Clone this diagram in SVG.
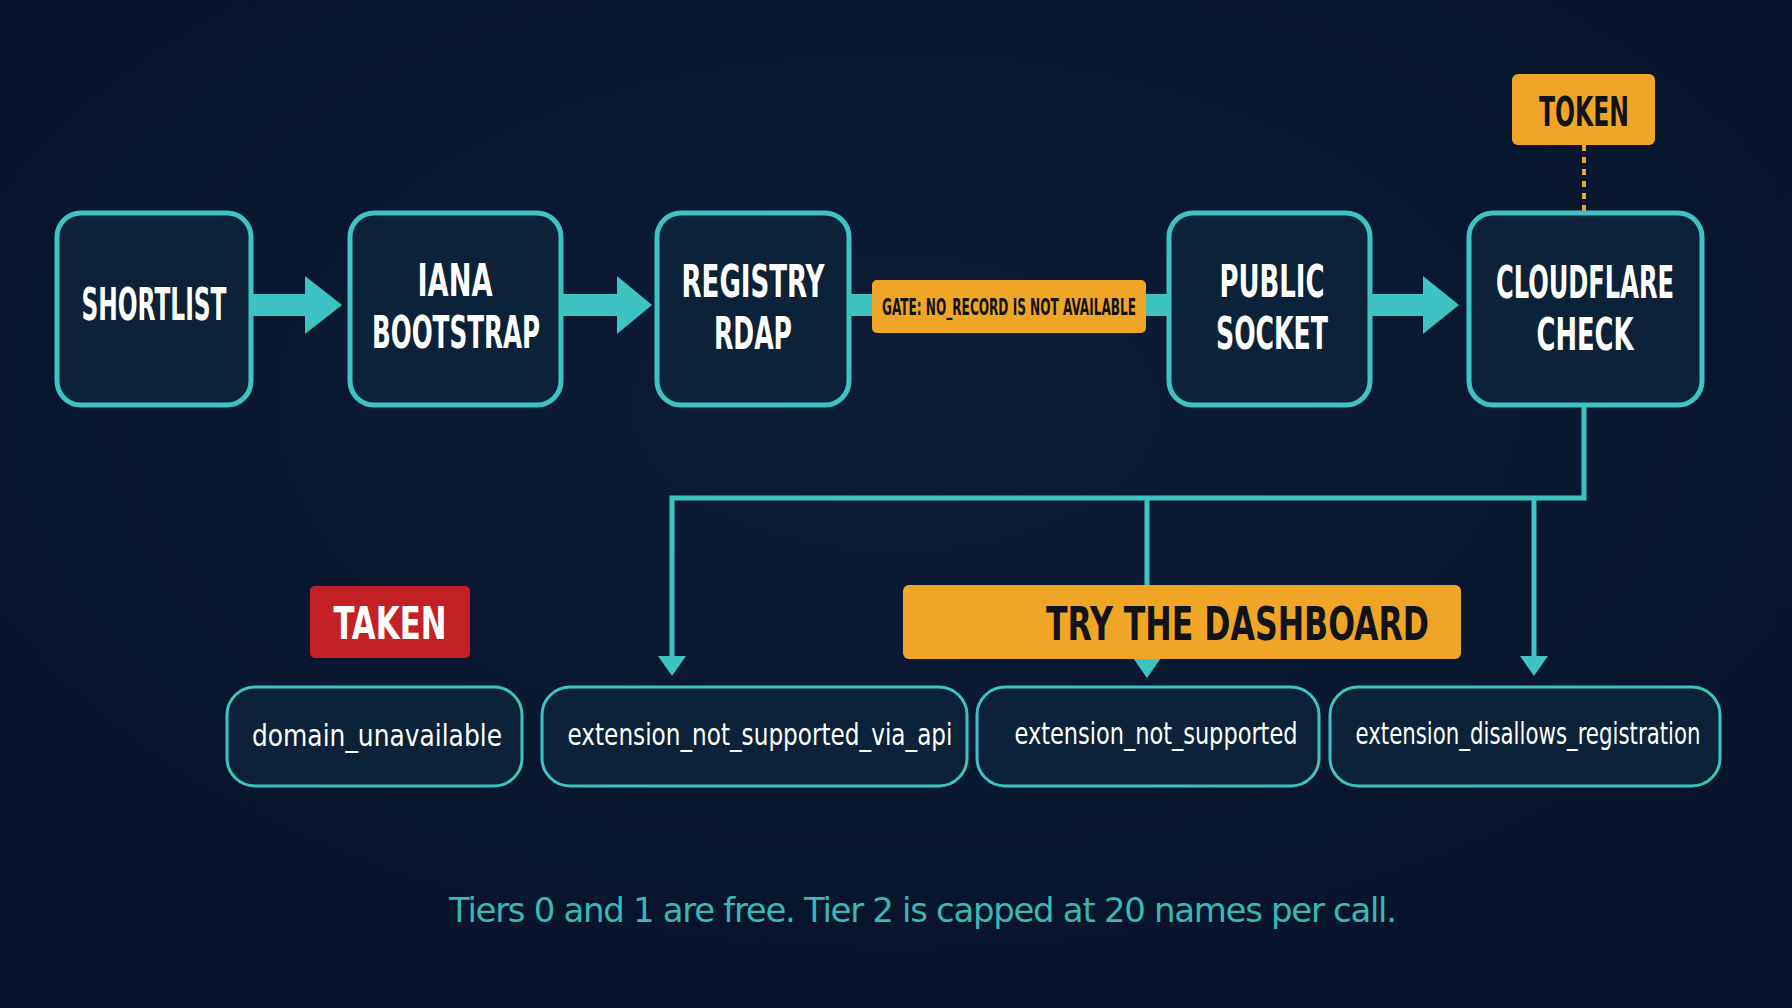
<svg xmlns="http://www.w3.org/2000/svg" width="1792" height="1008" viewBox="0 0 1792 1008">
<defs>
<radialGradient id="bg" cx="50%" cy="40%" r="70%"><stop offset="0" stop-color="#0c1d36"/><stop offset="1" stop-color="#07132a"/></radialGradient>
</defs>
<style>
.box{fill:#0c2238;stroke:#3ec3c3;stroke-width:5}
.sbox{fill:#0c2238;stroke:#3ec3c3;stroke-width:3}
.t{font-family:"DejaVu Sans Condensed","DejaVu Sans",sans-serif;font-weight:bold;fill:#ffffff;font-size:44px;text-anchor:middle}
.s{font-family:"DejaVu Sans Condensed","DejaVu Sans",sans-serif;fill:#ffffff;font-size:31px;text-anchor:middle}
.thick{stroke:#3ec3c3;stroke-width:22;fill:none}
.line{stroke:#3ec3c3;stroke-width:5;fill:none}
</style>
<rect width="1792" height="1008" fill="url(#bg)"/>
<g id="connectors">
<line class="thick" x1="251" y1="305" x2="310" y2="305"/><path d="M305,276L342,305L305,334z" fill="#3ec3c3"/>
<line class="thick" x1="561" y1="305" x2="622" y2="305"/><path d="M617,276L652,305L617,334z" fill="#3ec3c3"/>
<line class="thick" x1="849" y1="305" x2="1169" y2="305"/>
<line class="thick" x1="1370" y1="305" x2="1428" y2="305"/><path d="M1423,276L1459,305L1423,334z" fill="#3ec3c3"/>
<line x1="1584" y1="145" x2="1584" y2="213" stroke="#f0a526" stroke-width="4" stroke-dasharray="6,6"/>
<path class="line" d="M1584,405V498H672V660"/><path d="M658,656L686,656L672,676z" fill="#3ec3c3"/>
<path class="line" d="M1147,498V660"/><path d="M1133,658L1161,658L1147,678z" fill="#3ec3c3"/>
<path class="line" d="M1534,498V660"/><path d="M1520,656L1548,656L1534,676z" fill="#3ec3c3"/>
</g>
<g id="shortlist"><rect class="box" x="57" y="213" width="194" height="192" rx="24"/><text class="t" x="154" y="320" textLength="145" lengthAdjust="spacingAndGlyphs">SHORTLIST</text></g>
<g id="iana"><rect class="box" x="350" y="213" width="211" height="192" rx="24"/><text class="t" x="455" y="296" textLength="75" lengthAdjust="spacingAndGlyphs">IANA</text><text class="t" x="456" y="348" textLength="168" lengthAdjust="spacingAndGlyphs">BOOTSTRAP</text></g>
<g id="registry"><rect class="box" x="657" y="213" width="192" height="192" rx="24"/><text class="t" x="753" y="297" textLength="143" lengthAdjust="spacingAndGlyphs">REGISTRY</text><text class="t" x="753" y="349" textLength="78" lengthAdjust="spacingAndGlyphs">RDAP</text></g>
<g id="gate"><rect x="872" y="280" width="274" height="53" rx="5" fill="#f0a526"/><text x="1009" y="315" font-family="DejaVu Sans Condensed,sans-serif" font-weight="bold" font-size="23" fill="#10131a" text-anchor="middle" textLength="254" lengthAdjust="spacingAndGlyphs">GATE: NO_RECORD IS NOT AVAILABLE</text></g>
<g id="public"><rect class="box" x="1169" y="213" width="201" height="192" rx="24"/><text class="t" x="1272" y="297" textLength="105" lengthAdjust="spacingAndGlyphs">PUBLIC</text><text class="t" x="1272" y="349" textLength="112" lengthAdjust="spacingAndGlyphs">SOCKET</text></g>
<g id="cloudflare"><rect class="box" x="1469" y="213" width="233" height="192" rx="24"/><text class="t" x="1585" y="298" textLength="178" lengthAdjust="spacingAndGlyphs">CLOUDFLARE</text><text class="t" x="1585" y="350" textLength="97" lengthAdjust="spacingAndGlyphs">CHECK</text></g>
<g id="token"><rect x="1512" y="74" width="143" height="71" rx="6" fill="#f0a526"/><text x="1584" y="126" font-family="DejaVu Sans Condensed,sans-serif" font-weight="bold" font-size="40" fill="#10131a" text-anchor="middle" textLength="90" lengthAdjust="spacingAndGlyphs">TOKEN</text></g>
<g id="taken"><rect x="310" y="586" width="160" height="72" rx="5" fill="#c42126"/><text x="390" y="639" font-family="DejaVu Sans Condensed,sans-serif" font-weight="bold" font-size="44" fill="#fff" text-anchor="middle" textLength="113" lengthAdjust="spacingAndGlyphs">TAKEN</text></g>
<g id="dashboard"><rect x="903" y="585" width="558" height="74" rx="6" fill="#f0a526"/><text x="1429" y="640" font-family="DejaVu Sans Condensed,sans-serif" font-weight="bold" font-size="46" fill="#10131a" text-anchor="end" textLength="383" lengthAdjust="spacingAndGlyphs">TRY THE DASHBOARD</text></g>
<g id="domain"><rect class="sbox" x="227" y="687" width="295" height="99" rx="28"/><text class="s" x="377" y="746" textLength="250" lengthAdjust="spacingAndGlyphs">domain_unavailable</text></g>
<g id="extapi"><rect class="sbox" x="542" y="687" width="425" height="99" rx="28"/><text class="s" x="760" y="745" textLength="385" lengthAdjust="spacingAndGlyphs">extension_not_supported_via_api</text></g>
<g id="extnot"><rect class="sbox" x="977" y="687" width="342" height="99" rx="28"/><text class="s" x="1156" y="744" textLength="283" lengthAdjust="spacingAndGlyphs">extension_not_supported</text></g>
<g id="extdis"><rect class="sbox" x="1330" y="687" width="390" height="99" rx="28"/><text class="s" x="1528" y="744" textLength="345" lengthAdjust="spacingAndGlyphs">extension_disallows_registration</text></g>
<text x="923" y="922" font-family="DejaVu Sans,sans-serif" font-size="34" font-weight="500" fill="#3ab7b7" text-anchor="middle" textLength="948">Tiers 0 and 1 are free. Tier 2 is capped at 20 names per call.</text>
</svg>
